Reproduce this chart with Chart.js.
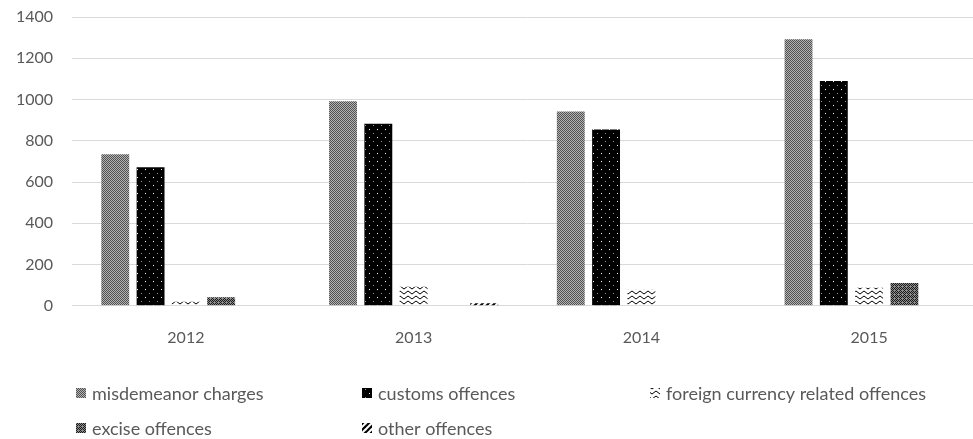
<!DOCTYPE html>
<html>
<head>
<meta charset="utf-8">
<style>
  html, body { margin: 0; padding: 0; background: #fff; }
  #wrap { position: relative; width: 973px; height: 439px; overflow: hidden; }
  #wrap canvas { position: absolute; left: 0; top: 0; }
</style>
</head>
<body>
<div id="wrap"><canvas id="chart1" width="990" height="439" style="width:990px;height:439px"></canvas></div>
<script src="https://cdn.jsdelivr.net/npm/chart.js@4/dist/chart.umd.min.js"></script>
<script>
const years = ['2012', '2013', '2014', '2015']
const misdemeanor = [735, 992, 942, 1292]
const customs = [672, 882, 855, 1090]
const foreignCurrency = [20, 92, 80, 88]
const excise = [42, 0, 0, 110]
const other = [0, 12, 0, 0]
const yTicks = [0, 200, 400, 600, 800, 1000, 1200, 1400]

// little tiles for the Excel-ish fill patterns
function tile(w, h, draw) {
  const c = document.createElement('canvas')
  c.width = w
  c.height = h
  const g = c.getContext('2d')
  draw(g)
  return g.createPattern(c, 'repeat')
}

const patMisd = tile(2, 2, g => {
  g.fillStyle = '#b4b4b4'; g.fillRect(0, 0, 2, 2)
  g.fillStyle = '#505050'; g.fillRect(0, 0, 1, 1); g.fillRect(1, 1, 1, 1)
})
const patCustoms = tile(8, 8, g => {
  g.fillStyle = '#000'; g.fillRect(0, 0, 8, 8)
  g.fillStyle = '#fff'; g.fillRect(1, 1, 1, 1)
  g.fillStyle = '#9a9a9a'; g.fillRect(5, 5, 1, 1)
})
const patForeign = tile(8, 5, g => {
  g.fillStyle = '#fff'; g.fillRect(0, 0, 8, 5)
  g.strokeStyle = '#000'; g.lineWidth = 1
  g.beginPath(); g.moveTo(0, 1); g.lineTo(4, 4); g.lineTo(8, 1); g.stroke()
})
const patExcise = tile(4, 4, g => {
  g.fillStyle = '#8c8c8c'; g.fillRect(0, 0, 4, 4)
  g.fillStyle = '#1a1a1a'
  g.fillRect(0, 0, 1, 1); g.fillRect(2, 0, 1, 1); g.fillRect(1, 1, 1, 1); g.fillRect(3, 1, 1, 1)
  g.fillRect(0, 2, 1, 1); g.fillRect(1, 3, 1, 1); g.fillRect(3, 3, 1, 1)
})
const patOther = tile(6, 6, g => {
  g.fillStyle = '#fff'; g.fillRect(0, 0, 6, 6)
  g.strokeStyle = '#000'; g.lineWidth = 2.2
  g.beginPath(); g.moveTo(-1, 7); g.lineTo(7, -1); g.stroke()
  g.beginPath(); g.moveTo(-4, 4); g.lineTo(4, -4); g.stroke()
  g.beginPath(); g.moveTo(2, 10); g.lineTo(10, 2); g.stroke()
})

const seriesNames = ['misdemeanor charges', 'customs offences', 'foreign currency related offences', 'excise offences', 'other offences']
const seriesValues = [misdemeanor, customs, foreignCurrency, excise, other]
const seriesFills = [patMisd, patCustoms, patForeign, patExcise, patOther]

// legend drawn in fixed columns like the spreadsheet one
const gridLegend = {
  id: 'gridLegend',
  afterDraw(chart) {
    const ctx = chart.ctx
    const cols = [76, 362, 650]
    const rows = [393, 428]
    ctx.save()
    ctx.font = '18px Lato'
    ctx.textBaseline = 'middle'
    chart.data.datasets.forEach((ds, i) => {
      const x = cols[i % 3]
      const y = rows[Math.floor(i / 3)]
      ctx.fillStyle = ds.backgroundColor
      ctx.fillRect(x, y - 5, 10, 10)
      ctx.fillStyle = '#595959'
      ctx.fillText(ds.label, x + 16, y + 1)
    })
    ctx.restore()
  }
}

new Chart(document.getElementById('chart1'), {
  type: 'bar',
  data: {
    labels: years,
    datasets: seriesNames.map((name, i) => ({
      label: name,
      data: seriesValues[i],
      backgroundColor: seriesFills[i],
      borderWidth: 0,
      categoryPercentage: 0.775,
      barPercentage: 0.79
    }))
  },
  options: {
    responsive: false,
    animation: false,
    layout: { padding: { left: 0, right: 7, top: 17, bottom: 78 } },
    plugins: {
      legend: { display: false },
      tooltip: { enabled: false }
    },
    scales: {
      x: {
        grid: { display: false },
        border: { color: '#d9d9d9', width: 1 },
        ticks: { color: '#595959', font: { family: 'Lato', size: 16 }, padding: 14 }
      },
      y: {
        min: 0,
        max: 1400,
        afterBuildTicks: axis => { axis.ticks = yTicks.map(v => ({ value: v })) },
        grid: { color: '#d9d9d9', drawTicks: false },
        border: { display: false },
        ticks: {
          color: '#595959',
          font: { family: 'Lato', size: 16 },
          padding: 19,
          callback: v => String(v)
        },
        afterFit: axis => {
          axis.width = 72
          axis.paddingTop = 0
          axis.paddingBottom = 0
        }
      }
    }
  },
  plugins: [gridLegend]
})
</script>
</body>
</html>
